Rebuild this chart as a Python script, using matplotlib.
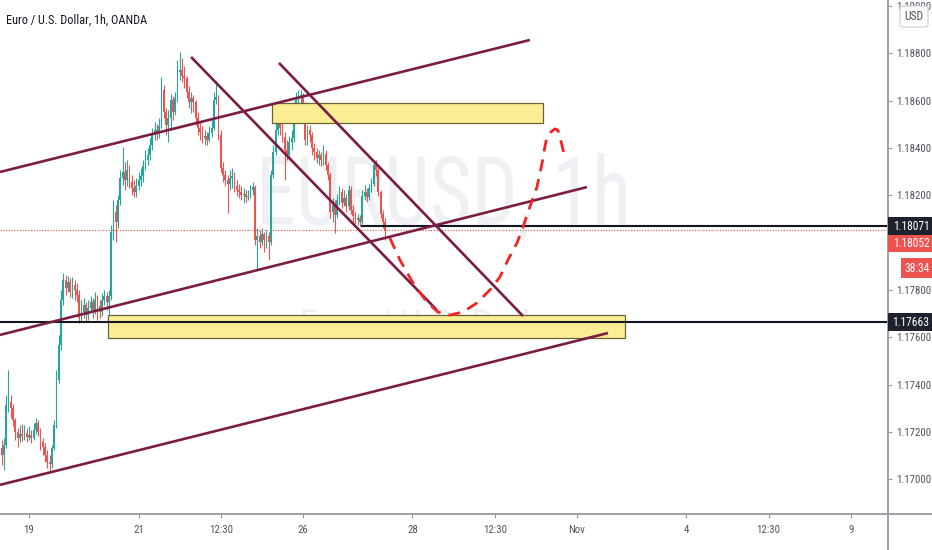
#!/usr/bin/env python3
"""EURUSD 1h chart with channel, trend lines and zones (TradingView-style)."""

import matplotlib

matplotlib.use("Agg")

import matplotlib.pyplot as plt
import numpy as np
from matplotlib import font_manager
from matplotlib.lines import Line2D
from matplotlib.patches import PathPatch, Rectangle, FancyBboxPatch
from matplotlib.textpath import TextPath
from matplotlib.font_manager import FontProperties
from matplotlib.transforms import Affine2D

# ── data ────────────────────────────────────────────────────────────────────
# hourly candles, x = trading hours since 19 Oct 00:00 (weekend removed)
FIRST_HOUR = -12
FIRST_OPEN = 1.17132
closes = [
    1.17102, 1.17145, 1.17314, 1.17326, 1.17301, 1.17250, 1.17200, 1.17174, 1.17191, 1.17183,
    1.17195, 1.17178, 1.17187, 1.17174, 1.17208, 1.17238, 1.17200, 1.17157, 1.17136, 1.17102,
    1.17073, 1.17064, 1.17132, 1.17229, 1.17420, 1.17567, 1.17758, 1.17842, 1.17808, 1.17834,
    1.17792, 1.17821, 1.17800, 1.17779, 1.17682, 1.17707, 1.17737, 1.17694, 1.17724, 1.17749,
    1.17715, 1.17758, 1.17732, 1.17707, 1.17758, 1.17775, 1.17749, 1.17775, 1.18045, 1.18130,
    1.18088, 1.18181, 1.18274, 1.18299, 1.18265, 1.18307, 1.18257, 1.18231, 1.18214, 1.18240,
    1.18265, 1.18282, 1.18324, 1.18350, 1.18371, 1.18413, 1.18455, 1.18476, 1.18468, 1.18493,
    1.18646, 1.18553, 1.18498, 1.18527, 1.18603, 1.18553, 1.18612, 1.18722, 1.18730, 1.18705,
    1.18696, 1.18637, 1.18595, 1.18612, 1.18595, 1.18527, 1.18485, 1.18468, 1.18443, 1.18451,
    1.18434, 1.18464, 1.18485, 1.18603, 1.18616, 1.18455, 1.18316, 1.18286, 1.18265, 1.18248,
    1.18274, 1.18282, 1.18240, 1.18223, 1.18214, 1.18202, 1.18206, 1.18193, 1.18197, 1.18223,
    1.18235, 1.18011, 1.18028, 1.18003, 1.18037, 1.18011, 1.18028, 1.18003, 1.18286, 1.18383,
    1.18476, 1.18519, 1.18485, 1.18447, 1.18392, 1.18371, 1.18426, 1.18443, 1.18561, 1.18603,
    1.18612, 1.18624, 1.18582, 1.18434, 1.18476, 1.18455, 1.18400, 1.18383, 1.18358, 1.18371,
    1.18350, 1.18375, 1.18329, 1.18286, 1.18130, 1.18159, 1.18117, 1.18181, 1.18214, 1.18168,
    1.18189, 1.18155, 1.18223, 1.18138, 1.18113, 1.18096, 1.18104, 1.18088, 1.18197, 1.18214,
    1.18193, 1.18231, 1.18248, 1.18329, 1.18307, 1.18214, 1.18121, 1.18088, 1.18052,
]
highs = [
    1.17166, 1.17174, 1.17356, 1.17462, 1.17356, 1.17318, 1.17259, 1.17217, 1.17229, 1.17233,
    1.17229, 1.17217, 1.17225, 1.17208, 1.17238, 1.17259, 1.17250, 1.17217, 1.17174, 1.17153,
    1.17124, 1.17102, 1.17145, 1.17250, 1.17462, 1.17610, 1.17800, 1.17872, 1.17863, 1.17859,
    1.17851, 1.17855, 1.17842, 1.17830, 1.17800, 1.17758, 1.17766, 1.17749, 1.17758, 1.17775,
    1.17766, 1.17792, 1.17779, 1.17758, 1.17787, 1.17800, 1.17792, 1.17800, 1.18075, 1.18181,
    1.18159, 1.18202, 1.18307, 1.18405, 1.18341, 1.18350, 1.18329, 1.18286, 1.18265, 1.18274,
    1.18299, 1.18316, 1.18350, 1.18392, 1.18400, 1.18443, 1.18485, 1.18510, 1.18502, 1.18527,
    1.18701, 1.18667, 1.18569, 1.18561, 1.18629, 1.18620, 1.18637, 1.18772, 1.18806, 1.18781,
    1.18747, 1.18705, 1.18663, 1.18637, 1.18624, 1.18603, 1.18553, 1.18510, 1.18493, 1.18476,
    1.18468, 1.18493, 1.18519, 1.18637, 1.18675, 1.18624, 1.18476, 1.18341, 1.18307, 1.18286,
    1.18307, 1.18316, 1.18299, 1.18265, 1.18248, 1.18240, 1.18231, 1.18223, 1.18223, 1.18244,
    1.18257, 1.18244, 1.18062, 1.18054, 1.18062, 1.18045, 1.18054, 1.18045, 1.18307, 1.18413,
    1.18519, 1.18548, 1.18540, 1.18519, 1.18468, 1.18434, 1.18451, 1.18476, 1.18595, 1.18637,
    1.18646, 1.18646, 1.18633, 1.18595, 1.18498, 1.18498, 1.18468, 1.18422, 1.18400, 1.18392,
    1.18383, 1.18413, 1.18392, 1.18341, 1.18299, 1.18189, 1.18181, 1.18206, 1.18240, 1.18231,
    1.18223, 1.18206, 1.18244, 1.18240, 1.18159, 1.18130, 1.18121, 1.18117, 1.18223, 1.18244,
    1.18231, 1.18248, 1.18274, 1.18350, 1.18350, 1.18324, 1.18223, 1.18138, 1.18104,
]
lows = [
    1.17060, 1.17039, 1.17132, 1.17284, 1.17259, 1.17225, 1.17166, 1.17136, 1.17157, 1.17162,
    1.17166, 1.17157, 1.17166, 1.17153, 1.17166, 1.17191, 1.17183, 1.17124, 1.17102, 1.17073,
    1.17047, 1.17035, 1.17047, 1.17124, 1.17217, 1.17407, 1.17546, 1.17737, 1.17779, 1.17792,
    1.17770, 1.17766, 1.17758, 1.17749, 1.17660, 1.17665, 1.17682, 1.17665, 1.17673, 1.17707,
    1.17682, 1.17699, 1.17673, 1.17682, 1.17690, 1.17737, 1.17715, 1.17601, 1.17758, 1.18011,
    1.18003, 1.18062, 1.18159, 1.18244, 1.18223, 1.18240, 1.18231, 1.18202, 1.18193, 1.18193,
    1.18223, 1.18240, 1.18257, 1.18307, 1.18329, 1.18350, 1.18392, 1.18434, 1.18434, 1.18443,
    1.18485, 1.18527, 1.18455, 1.18426, 1.18485, 1.18519, 1.18540, 1.18595, 1.18688, 1.18679,
    1.18654, 1.18612, 1.18569, 1.18548, 1.18553, 1.18498, 1.18455, 1.18434, 1.18422, 1.18413,
    1.18413, 1.18426, 1.18447, 1.18476, 1.18586, 1.18434, 1.18299, 1.18257, 1.18240, 1.18126,
    1.18223, 1.18231, 1.18214, 1.18197, 1.18189, 1.18181, 1.18168, 1.18172, 1.18181, 1.18189,
    1.18202, 1.17990, 1.17885, 1.17978, 1.17990, 1.17961, 1.17978, 1.17927, 1.17990, 1.18274,
    1.18371, 1.18455, 1.18455, 1.18426, 1.18265, 1.18350, 1.18358, 1.18392, 1.18426, 1.18540,
    1.18569, 1.18586, 1.18561, 1.18413, 1.18413, 1.18426, 1.18371, 1.18350, 1.18337, 1.18329,
    1.18324, 1.18329, 1.18307, 1.18265, 1.18104, 1.18088, 1.18041, 1.18104, 1.18159, 1.18147,
    1.18155, 1.18130, 1.18138, 1.18121, 1.18088, 1.18079, 1.18075, 1.18071, 1.18079, 1.18181,
    1.18172, 1.18181, 1.18214, 1.18240, 1.18282, 1.18197, 1.18104, 1.18062, 1.18011,
]

# x-axis ticks (hour index) and labels
tick_hours = [0, 48, 84, 120, 168, 204, 240, 288, 324, 360]
tick_labels = ["19", "21", "12:30", "26", "28", "12:30", "Nov", "4", "12:30", "9"]
price_ticks = [1.170, 1.172, 1.174, 1.176, 1.178, 1.180, 1.182, 1.184, 1.186, 1.188, 1.190]
hidden_ticks = [1.180]  # sits under the price tags on the scale

# drawings: (hour, price) pairs
channel_upper = ([-12.7, 219.4], [1.18299, 1.18857])
channel_mid = ([-12.7, 244.4], [1.17610, 1.18235])
channel_lower = ([-12.7, 253.6], [1.16976, 1.17618])
down_line_1 = ([71.0, 178.7], [1.18785, 1.17715])
down_line_2 = ([109.5, 216.4], [1.18760, 1.17690])
zone_upper = (106.4, 225.1, 1.18506, 1.18591)
zone_lower = (34.6, 261.1, 1.17597, 1.17694)
level_a = 1.18071
level_b = 1.17663
level_a_start = 146
last_price = 1.18052
countdown = "38:34"
path_hours = [158.1, 162.5, 168.2, 174.3, 179.1, 184.4, 190.1, 196.2, 201.9, 206.3, 209.8,
              213.8, 216.4, 219.4, 222.5, 224.6, 225.9, 226.8, 228.6, 230.4, 231.7, 233.0, 234.3]
path_prices = [1.18020, 1.17927, 1.17830, 1.17749, 1.17707, 1.17694, 1.17707, 1.17745, 1.17800,
               1.17855, 1.17927, 1.17999, 1.18066, 1.18151, 1.18235, 1.18328, 1.18400, 1.18443,
               1.18468, 1.18481, 1.18476, 1.18430, 1.18379]

UP = "#26a69a"
DOWN = "#ef5350"
DRAW = "#7b1d43"
INK = "#131722"
AXIS_TXT = "#50535e"

W, H = 932, 550


def pick_font():
    names = {f.name for f in font_manager.fontManager.ttflist}
    for cand in ["Liberation Sans Narrow", "Roboto Condensed", "Open Sans Condensed",
                 "Liberation Sans"]:
        if cand in names:
            return cand
    return "DejaVu Sans"


NARROW = pick_font()
plt.rcParams["font.family"] = [NARROW, "DejaVu Sans"]


def fx(px):
    return px / W


def fy(py):
    return 1 - py / H


def stretched_text(ax, fig, text, box, color):
    """Watermark text squeezed into a pixel box (x0, y_top, x1, y_bottom)."""
    tp = TextPath((0, 0), text, size=1, prop=FontProperties(family=NARROW))
    ext = tp.get_extents()
    x0, ytop, x1, ybot = box
    sx = (fx(x1) - fx(x0)) / ext.width
    sy = (fy(ytop) - fy(ybot)) / ext.height
    tr = Affine2D().translate(-ext.x0, -ext.y0).scale(sx, sy).translate(fx(x0), fy(ybot))
    ax.add_patch(PathPatch(tp, transform=tr + fig.transFigure, fc=color, ec="none", zorder=0.2))


def main():
    fig = plt.figure(figsize=(W / 100, H / 100), dpi=100, facecolor="white")
    ax = fig.add_axes([0, 36 / H, 888 / W, 514 / H])
    ax.set_facecolor("none")

    # watermark
    stretched_text(ax, fig, "EURUSD, 1h", (262, 153, 626, 238), "#eff0f3")
    stretched_text(ax, fig, "Euro / U.S. Dollar", (302, 308, 560, 336), "#eff0f3")

    # candles
    hours = np.arange(FIRST_HOUR, FIRST_HOUR + len(closes))
    c = np.array(closes)
    o = np.concatenate([[FIRST_OPEN], c[:-1]])
    hi = np.array(highs)
    lo = np.array(lows)
    colors = np.where(c >= o, UP, DOWN)
    ax.vlines(hours, lo, hi, colors=colors, lw=0.8, zorder=2)
    body = np.maximum(np.abs(c - o), 0.00003)
    ax.bar(hours, body, bottom=np.minimum(o, c), width=0.75, color=colors, lw=0, zorder=2)

    # zones
    for x0, x1, y0, y1 in (zone_upper, zone_lower):
        ax.add_patch(Rectangle((x0, y0), x1 - x0, y1 - y0, fc="#fbed92", ec="#6b6336",
                               lw=0.9, zorder=3))

    # horizontal levels
    ax.axhline(last_price, color=DOWN, lw=0.8, ls=(0, (1, 1.5)), zorder=1.5)
    ax.plot([level_a_start, 400], [level_a, level_a], color=INK, lw=1.5, zorder=4)
    ax.axhline(level_b, color=INK, lw=1.5, zorder=4)

    # trend / channel lines
    for xs, ys in (channel_upper, channel_mid, channel_lower, down_line_1, down_line_2):
        ax.plot(xs, ys, color=DRAW, lw=1.9, solid_capstyle="butt", zorder=5)

    # projected path
    ax.plot(path_hours, path_prices, color="#f22424", lw=2.0, dashes=(4.3, 2.9),
            solid_joinstyle="round", zorder=6)

    ax.set_xlim(-12.7, 376.3)
    ax.set_ylim(1.168529, 1.190261)

    # axes styling
    for s in ax.spines.values():
        s.set_visible(False)
    ax.yaxis.tick_right()
    ax.set_yticks(price_ticks)
    ax.set_yticklabels(["" if p in hidden_ticks else f"{p:.5f}" for p in price_ticks])
    ax.set_xticks(tick_hours)
    ax.set_xticklabels(tick_labels)
    ax.tick_params(axis="both", direction="out", length=3, width=0.8, color="#9598a1",
                   labelcolor=AXIS_TXT, labelsize=7.8)
    ax.tick_params(axis="y", pad=2.5)
    ax.tick_params(axis="x", pad=5)

    fig.add_artist(Line2D([fx(888), fx(888)], [0, 1], transform=fig.transFigure,
                          color="#9598a1", lw=1.3))
    fig.add_artist(Line2D([0, 1], [fy(514), fy(514)], transform=fig.transFigure,
                          color="#9598a1", lw=1.3))

    # price tags on the right scale
    def tag(y0, y1, text, fc, x0=888):
        fig.add_artist(Rectangle((fx(x0), fy(y1)), fx(W) - fx(x0), fy(y0) - fy(y1),
                                 transform=fig.transFigure, fc=fc, ec="none", zorder=10))
        fig.text(fx((x0 + W) / 2 + 1), fy((y0 + y1) / 2), text, color="white", fontsize=8.3,
                 ha="center", va="center", zorder=11)

    tag(217, 235, f"{level_a:.5f}", "#1e222d")
    tag(235, 252, f"{last_price:.5f}", DOWN)
    tag(258, 278, countdown, DOWN, x0=901)
    tag(313, 331, f"{level_b:.5f}", "#1e222d")

    fig.add_artist(FancyBboxPatch((fx(900), fy(27)), fx(28), fy(6) - fy(27),
                                  boxstyle="round,pad=0,rounding_size=0.004",
                                  transform=fig.transFigure, fc="white", ec="#c9ccd4",
                                  lw=0.8, zorder=10))
    fig.text(fx(914), fy(17), "USD", color=AXIS_TXT, fontsize=8.3, ha="center",
             va="center", zorder=11)

    fig.text(fx(6), fy(20), "Euro / U.S. Dollar, 1h, OANDA", color=INK, fontsize=8.8,
             ha="left", va="center")

    fig.savefig("out.png", dpi=100, facecolor="white")
    plt.close(fig)


if __name__ == "__main__":
    main()
